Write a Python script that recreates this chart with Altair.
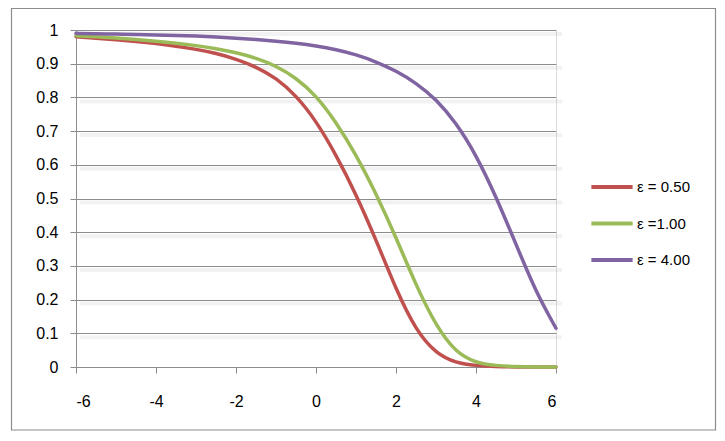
import altair as alt
import pandas as pd

# ---- data ----
x_vals = [-6, -5.5, -5, -4.5, -4, -3.5, -3, -2.5, -2, -1.5, -1, -0.5,
          0, 0.5, 1, 1.5, 2, 2.5, 3, 3.5, 4, 4.5, 5, 5.5, 6]
eps_050 = [0.980, 0.976, 0.971, 0.966, 0.960, 0.952, 0.943, 0.931, 0.914, 0.891, 0.858, 0.806,
           0.731, 0.630, 0.513, 0.378, 0.230, 0.108, 0.040, 0.012, 0.004, 0.001, 0.0003, 0.0, 0.0]
eps_100 = [0.983, 0.980, 0.976, 0.972, 0.967, 0.961, 0.954, 0.945, 0.933, 0.917, 0.894, 0.858,
           0.806, 0.727, 0.630, 0.515, 0.385, 0.242, 0.122, 0.042, 0.012, 0.004, 0.001, 0.0003, 0.0]
eps_400 = [0.990, 0.989, 0.988, 0.987, 0.985, 0.984, 0.982, 0.979, 0.976, 0.972, 0.967, 0.961,
           0.953, 0.942, 0.927, 0.906, 0.879, 0.843, 0.795, 0.725, 0.630, 0.506, 0.364, 0.222, 0.115]
series_labels = ["ε = 0.50", "ε =1.00", "ε = 4.00"]
series_colors = ["#C0504D", "#9BBB59", "#8064A2"]
y_ticks = [0, 0.1, 0.2, 0.3, 0.4, 0.5, 0.6, 0.7, 0.8, 0.9, 1]
x_ticks = [-6, -4, -2, 0, 2, 4, 6]

rows = []
for label, ys in zip(series_labels, [eps_050, eps_100, eps_400]):
    for xv, yv in zip(x_vals, ys):
        rows.append({"x": xv, "y": yv, "series": label})
df = pd.DataFrame(rows)

FONT = "Liberation Sans"
GRID = "#8c8c8c"

xscale = alt.Scale(domain=[-6, 6], nice=False, zero=False)
yscale = alt.Scale(domain=[0, 1], nice=False)

y_axis = alt.Axis(values=y_ticks, title=None, grid=True, gridColor=GRID,
                  gridWidth=1, domainColor=GRID, tickColor=GRID, tickSize=6,
                  labelPadding=12, labelFontSize=16, labelFont=FONT,
                  labelColor="#000000", labelExpr="'' + datum.value")
x_axis = alt.Axis(values=x_ticks, title=None, grid=False,
                  domainColor=GRID, tickColor=GRID, tickSize=6,
                  labelPadding=20, labelFontSize=16, labelFont=FONT,
                  labelColor="#000000", labelBaseline="top",
                  labelExpr="'' + datum.value")

# soft shadows under the gridlines (Excel style)
shadow = alt.Chart(pd.DataFrame({"v": y_ticks[1:]})).mark_rule(
    color="#000000", opacity=0.05, strokeWidth=4, yOffset=4
).encode(
    y=alt.Y("v:Q", scale=yscale, axis=y_axis),
    x=alt.value(4), x2=alt.value(486)
)

lines = alt.Chart(df).mark_line(
    strokeWidth=3.5, interpolate="basis", strokeCap="round", strokeJoin="round"
).encode(
    x=alt.X("x:Q", scale=xscale, axis=x_axis),
    y=alt.Y("y:Q", scale=yscale, axis=y_axis),
    color=alt.Color("series:N",
                    scale=alt.Scale(domain=series_labels, range=series_colors),
                    legend=alt.Legend(title=None, orient="none", legendX=513, legendY=134,
                                      symbolType="stroke", symbolSize=1700,
                                      symbolStrokeWidth=4, labelFont=FONT,
                                      labelFontSize=15, labelColor="#000000",
                                      labelOffset=2, rowPadding=5.5)),
    detail="series:N",
)

border = alt.Chart(pd.DataFrame({"a": [0]})).mark_rect(
    fill="transparent", stroke="#8c8c8c", strokeWidth=1.2
).encode(
    x=alt.value(-64.5), x2=alt.value(639.5), y=alt.value(-21.5), y2=alt.value(400)
)

chart = alt.layer(border, shadow, lines).properties(
    width=480, height=337,
    autosize=alt.AutoSizeParams(type="none"),
    padding={"left": 76, "top": 30, "right": 169, "bottom": 74},
).configure_view(stroke=None).configure(background="white")

chart.save("out.html", embed_options={"renderer": "svg", "actions": False})
